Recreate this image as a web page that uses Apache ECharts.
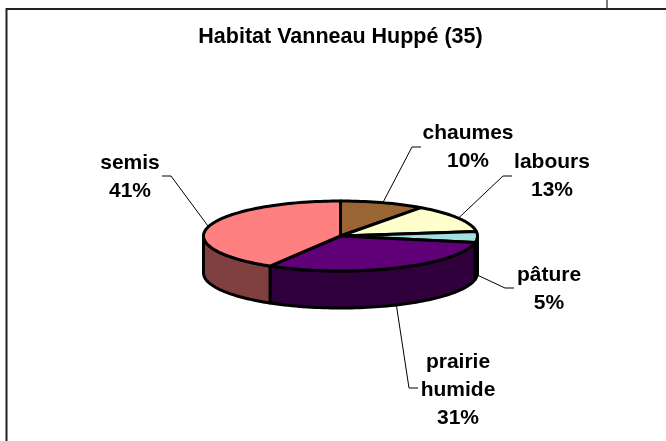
<!DOCTYPE html>
<html><head><meta charset="utf-8">
<style>html,body{margin:0;padding:0;background:#fff}#c{width:666px;height:441px}</style>
<script src="https://cdn.jsdelivr.net/npm/echarts@6/dist/echarts.min.js"></script>
</head><body><div id="c"></div>
<script>
const titleText = 'Habitat Vanneau Huppé (35)';
const categories = ['chaumes', 'labours', 'pâture', 'prairie\nhumide', 'semis'];
const values = [10, 13, 5, 30.6, 41.4];
const topColors = ['#996633', '#FFFFCC', '#A0E2E0', '#5F0078', '#FF8080'];
const sideColors = ['#4D3319', '#808066', '#3A6060', '#2F003C', '#804040'];
// label centre and leader elbow/end, in page pixels
const labelX = [468, 552, 549, 458, 130];
const labelY = [147, 176, 289, 390, 177];
const elbowX = [412, 503, 505, 409, 171];
const elbowY = [147, 176, 288, 388, 176];
const endX = [421, 512, 514, 418, 162];

const cx = 340.5, cy = 236, rx = 137, ry = 35, depth = 37, FONT = 'Liberation Sans';
const total = values.reduce((a, b) => a + b, 0);
const starts = []; values.reduce((s, v, i) => (starts[i] = s, s + v), 0);
const ang = p => p / total * 2 * Math.PI;
const pt = (a, dy) => [cx + rx * Math.sin(a), cy - ry * Math.cos(a) + (dy || 0)];
function arc(a0, a1, dy) {
  const n = Math.max(2, Math.ceil((a1 - a0) / 0.03)), out = [];
  for (let i = 0; i <= n; i++) out.push(pt(a0 + (a1 - a0) * i / n, dy));
  return out;
}
const outline = {stroke: '#000', lineWidth: 3, lineJoin: 'round'};

function renderSide(params) {
  const i = params.dataIndex;
  const a0 = Math.max(ang(starts[i]), Math.PI / 2);
  const a1 = Math.min(ang(starts[i] + values[i]), Math.PI * 1.5);
  if (a1 <= a0) return {type: 'group', children: []};
  return {type: 'polygon', silent: true,
    shape: {points: arc(a0, a1, 0).concat(arc(a0, a1, depth).reverse())},
    style: Object.assign({fill: sideColors[i]}, outline)};
}
function renderTop(params) {
  const i = params.dataIndex;
  const a0 = ang(starts[i]), a1 = ang(starts[i] + values[i]);
  return {type: 'polygon', silent: true,
    shape: {points: [[cx, cy]].concat(arc(a0, a1, 0))},
    style: Object.assign({fill: topColors[i]}, outline)};
}
function renderLabel(params) {
  const i = params.dataIndex;
  const mid = ang(starts[i] + values[i] / 2);
  const front = Math.cos(mid) < 0;
  const anchor = pt(mid, front ? depth + 1 : 0);
  return {type: 'group', silent: true, children: [
    {type: 'polyline', shape: {points: [anchor, [elbowX[i], elbowY[i]], [endX[i], elbowY[i]]]},
     style: {stroke: '#000', lineWidth: 1, fill: null}},
    {type: 'text', x: labelX[i], y: labelY[i],
     style: {text: categories[i] + '\n' + Math.round(values[i]) + '%', fill: '#000',
       font: 'bold 21px "' + FONT + '"', lineHeight: 28, align: 'center', verticalAlign: 'middle'}}
  ]};
}
const chart = echarts.init(document.getElementById('c'), null, {renderer: 'canvas'});
const rows = values.map((v, i) => ({name: categories[i], value: v}));
chart.setOption({
  animation: false,
  backgroundColor: '#fff',
  title: {text: titleText, left: 335.5, top: 21, textAlign: 'center',
    textStyle: {fontFamily: FONT, fontWeight: 'bold', fontSize: 21.5, color: '#000'}},
  graphic: [
    {type: 'polyline', silent: true, shape: {points: [[6.5, 441], [6.5, 9], [666, 9]]},
     style: {stroke: '#222', lineWidth: 2, fill: null}},
    {type: 'line', silent: true, shape: {x1: 607, y1: 0, x2: 607, y2: 9},
     style: {stroke: '#222', lineWidth: 1.2}}
  ],
  series: [
    {type: 'custom', coordinateSystem: 'none', renderItem: renderLabel, data: rows, z: 1},
    {type: 'custom', coordinateSystem: 'none', renderItem: renderSide, data: rows, z: 2},
    {type: 'custom', coordinateSystem: 'none', renderItem: renderTop, data: rows, z: 3}
  ]
});
</script></body></html>
